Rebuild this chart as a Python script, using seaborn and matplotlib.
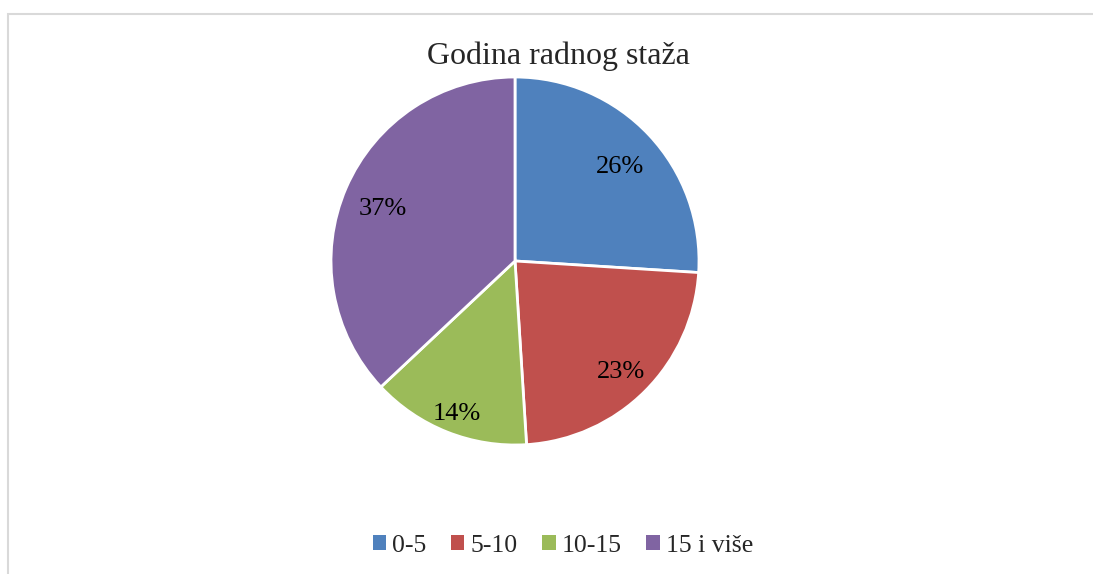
import matplotlib
matplotlib.use("Agg")
import matplotlib.pyplot as plt
import seaborn as sns
import numpy as np
from matplotlib.patches import Patch, Rectangle

# Data
categories = ["0-5", "5-10", "10-15", "15 i više"]
shares = [26, 23, 14, 37]
colors = ["#4F81BD", "#C0504D", "#9BBB59", "#8064A2"]
title = "Godina radnog staža"

# label distance from centre (fraction of radius), as placed in the original
label_dist = [0.78, 0.815, 0.865, 0.78]

sns.set_theme(style="white")
plt.rcParams["font.family"] = ["Liberation Serif", "DejaVu Serif"]

W, H = 1093, 574
fig = plt.figure(figsize=(W / 100, H / 100), dpi=100)

# light grey chart frame (runs off the right and bottom edges)
fig.patches.append(Rectangle((8 / W, -0.1), 1.2, 1 - 14 / H + 0.1,
                             transform=fig.transFigure, fill=False,
                             edgecolor="#D9D9D9", linewidth=1.5))

# pie: centre (515, 261) px, radius 184 px
cx, cy, r = 515, 261, 184
pad = 1.1
ax = fig.add_axes([(cx - r * pad) / W, (H - cy - r * pad) / H,
                   2 * r * pad / W, 2 * r * pad / H])
wedges, texts, autotexts = ax.pie(
    shares, colors=colors, startangle=90, counterclock=False,
    autopct="%.0f%%", pctdistance=0.8,
    wedgeprops=dict(edgecolor="white", linewidth=2),
    textprops=dict(fontsize=19, color="black"))
for w, t, d in zip(wedges, autotexts, label_dist):
    ang = np.deg2rad((w.theta1 + w.theta2) / 2)
    t.set_position((d * np.cos(ang), d * np.sin(ang) - 0.025))
ax.set_xlim(-pad, pad)
ax.set_ylim(-pad, pad)
ax.set_aspect("equal")
ax.axis("off")

fig.text(558 / W, 1 - 56 / H, title, ha="center", va="center", fontsize=23)

handles = [Patch(facecolor=c, edgecolor="none", label=l)
           for c, l in zip(colors, categories)]
fig.legend(handles=handles, loc="center", bbox_to_anchor=(563 / W, 1 - 546 / H),
           ncol=4, frameon=False, fontsize=18.5, handlelength=0.52,
           handleheight=0.52, handletextpad=0.25, columnspacing=0.95,
           borderpad=0, borderaxespad=0)

fig.savefig("out.png", dpi=100)
